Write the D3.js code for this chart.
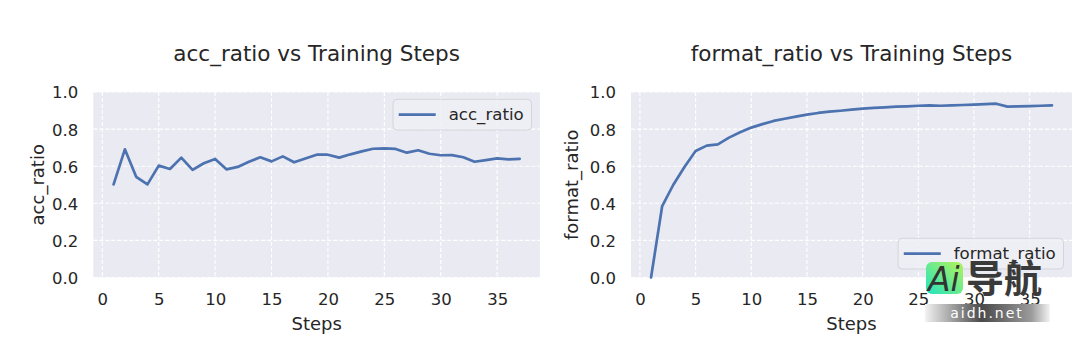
<!DOCTYPE html>
<html>
<head>
<meta charset="utf-8">
<script src="https://cdn.jsdelivr.net/npm/d3@7"></script>
<style>
  html, body { margin: 0; padding: 0; background: #fff; }
  svg { display: block; font-family: "DejaVu Sans", sans-serif; }
</style>
</head>
<body>
<div id="chart"></div>
<script>
// Datos
const steps = d3.range(1, 38);
const accRatio = [
  0.502, 0.691, 0.543, 0.502, 0.603, 0.585, 0.646, 0.580, 0.616, 0.639,
  0.583, 0.596, 0.624, 0.648, 0.626, 0.653, 0.621, 0.642, 0.662, 0.662,
  0.646, 0.664, 0.680, 0.694, 0.696, 0.693, 0.673, 0.686, 0.667, 0.659,
  0.660, 0.648, 0.624, 0.633, 0.642, 0.637, 0.640
];
const formatRatio = [
  0.000, 0.385, 0.500, 0.596, 0.682, 0.711, 0.718, 0.754, 0.783, 0.808,
  0.827, 0.844, 0.856, 0.867, 0.878, 0.887, 0.894, 0.899, 0.905, 0.910,
  0.914, 0.917, 0.921, 0.923, 0.926, 0.928, 0.926, 0.928, 0.930, 0.932,
  0.935, 0.937, 0.921, 0.923, 0.924, 0.926, 0.928
];
const xTicks = [0, 5, 10, 15, 20, 25, 30, 35];
const yTicks = [0.0, 0.2, 0.4, 0.6, 0.8, 1.0];

const width = 1080, height = 353;
const TEXT = "#262626";
const BG = "#eaeaf2";
const LINE = "#4c72b0";

const svg = d3.select("#chart").append("svg")
  .attr("width", width)
  .attr("height", height);

// Dibuja un panel estilo seaborn "darkgrid"
function drawPanel(opts) {
  const { left, right, top, bottom, values, name, legendPos, yLabelX } = opts;

  const x = d3.scaleLinear().domain([-0.8, 38.8]).range([left, right]);
  const y = d3.scaleLinear().domain([0, 1]).range([bottom, top]);

  const g = svg.append("g");

  // fondo
  g.append("rect")
    .attr("x", left).attr("y", top)
    .attr("width", right - left).attr("height", bottom - top)
    .attr("fill", BG);

  // rejilla
  g.append("g").selectAll("line")
    .data(xTicks)
    .join("line")
    .attr("x1", d => x(d)).attr("x2", d => x(d))
    .attr("y1", top).attr("y2", bottom)
    .attr("stroke", "#fff").attr("stroke-width", 1.1)
    .attr("stroke-dasharray", "4,2");
  g.append("g").selectAll("line")
    .data(yTicks)
    .join("line")
    .attr("x1", left).attr("x2", right)
    .attr("y1", d => y(d)).attr("y2", d => y(d))
    .attr("stroke", "#fff").attr("stroke-width", 1.1)
    .attr("stroke-dasharray", "4,2");

  // ejes (sin línea ni marcas, solo etiquetas)
  const xAxis = g.append("g")
    .attr("transform", `translate(0,${bottom})`)
    .call(d3.axisBottom(x).tickValues(xTicks).tickSize(0).tickFormat(d3.format("d")));
  xAxis.select(".domain").remove();
  xAxis.selectAll("text")
    .attr("y", 16).attr("dy", "0.71em")
    .attr("fill", TEXT)
    .attr("font-size", 16.5)
    .attr("font-family", "DejaVu Sans");

  const yAxis = g.append("g")
    .attr("transform", `translate(${left},0)`)
    .call(d3.axisLeft(y).tickValues(yTicks).tickSize(0).tickFormat(d3.format(".1f")));
  yAxis.select(".domain").remove();
  yAxis.selectAll("text")
    .attr("x", -15).attr("dy", "0.36em")
    .attr("fill", TEXT)
    .attr("font-size", 16.5)
    .attr("font-family", "DejaVu Sans");

  // línea de datos
  const line = d3.line()
    .x((d, i) => x(steps[i]))
    .y(d => y(d));
  g.append("path")
    .datum(values)
    .attr("fill", "none")
    .attr("stroke", LINE)
    .attr("stroke-width", 2.7)
    .attr("stroke-linejoin", "round")
    .attr("stroke-linecap", "round")
    .attr("d", line);

  // títulos
  g.append("text")
    .attr("x", (left + right) / 2).attr("y", 61)
    .attr("text-anchor", "middle")
    .attr("fill", TEXT)
    .attr("font-size", 21.5)
    .text(`${name} vs Training Steps`);

  g.append("text")
    .attr("x", (left + right) / 2).attr("y", 330)
    .attr("text-anchor", "middle")
    .attr("fill", TEXT)
    .attr("font-size", 18)
    .text("Steps");

  g.append("text")
    .attr("transform", `translate(${yLabelX},${(top + bottom) / 2}) rotate(-90)`)
    .attr("text-anchor", "middle")
    .attr("fill", TEXT)
    .attr("font-size", 18)
    .text(name);

  // leyenda
  const leg = g.append("g");
  const box = leg.append("rect");
  const label = leg.append("text")
    .attr("fill", TEXT)
    .attr("font-size", 16.6)
    .text(name);
  const textW = label.node().getComputedTextLength();
  const boxW = 5.7 + 37 + 13 + textW + 7.8;
  const boxH = 30.7;
  const bx = right - 8.5 - boxW;
  const by = legendPos === "top" ? top + 7.3 : bottom - 8.5 - boxH;
  box.attr("x", bx).attr("y", by)
    .attr("width", boxW).attr("height", boxH)
    .attr("rx", 4).attr("ry", 4)
    .attr("fill", "#eef0f5").attr("fill-opacity", 0.85)
    .attr("stroke", "#d4d4dc").attr("stroke-width", 1);
  leg.append("line")
    .attr("x1", bx + 5.7).attr("x2", bx + 5.7 + 37)
    .attr("y1", by + boxH / 2).attr("y2", by + boxH / 2)
    .attr("stroke", LINE).attr("stroke-width", 2.7);
  label.attr("x", bx + 5.7 + 37 + 13).attr("y", by + boxH / 2).attr("dy", "0.35em");
}

drawPanel({
  left: 93.3, right: 540, top: 92, bottom: 277.5,
  values: accRatio, name: "acc_ratio", legendPos: "top", yLabelX: 44
});
drawPanel({
  left: 631, right: 1072, top: 92, bottom: 277.5,
  values: formatRatio, name: "format_ratio", legendPos: "bottom", yLabelX: 578
});

// marca de agua de la imagen original
const wm = svg.append("g");
const defs = svg.append("defs");
const gGreen = defs.append("linearGradient").attr("id", "wmGreen")
  .attr("x1", "0%").attr("y1", "100%").attr("x2", "100%").attr("y2", "0%");
gGreen.append("stop").attr("offset", "0%").attr("stop-color", "#22e3c0");
gGreen.append("stop").attr("offset", "100%").attr("stop-color", "#b4f25a");
const gGray = defs.append("linearGradient").attr("id", "wmGray");
gGray.append("stop").attr("offset", "0%").attr("stop-color", "#f2f2f2");
gGray.append("stop").attr("offset", "45%").attr("stop-color", "#4a4a4a");
gGray.append("stop").attr("offset", "85%").attr("stop-color", "#9a9a9a");
gGray.append("stop").attr("offset", "100%").attr("stop-color", "#f4f4f4");

wm.append("rect")
  .attr("x", 926).attr("y", 262).attr("width", 37).attr("height", 32)
  .attr("rx", 6).attr("fill", "url(#wmGreen)");
wm.append("text")
  .attr("x", 928).attr("y", 291)
  .attr("font-size", 33).attr("font-style", "italic")
  .attr("fill", "#333")
  .text("Ai");
wm.append("text")
  .attr("x", 966).attr("y", 292)
  .attr("font-size", 38).attr("font-weight", "bold")
  .attr("font-family", "Noto Sans CJK SC")
  .attr("fill", "#3a3a3a")
  .text("导航");
wm.append("rect")
  .attr("x", 925).attr("y", 304).attr("width", 125).attr("height", 18)
  .attr("fill", "url(#wmGray)");
wm.append("text")
  .attr("x", 987).attr("y", 318)
  .attr("text-anchor", "middle")
  .attr("font-size", 14).attr("letter-spacing", 2)
  .attr("fill", "#fff")
  .text("aidh.net");
</script>
</body>
</html>
